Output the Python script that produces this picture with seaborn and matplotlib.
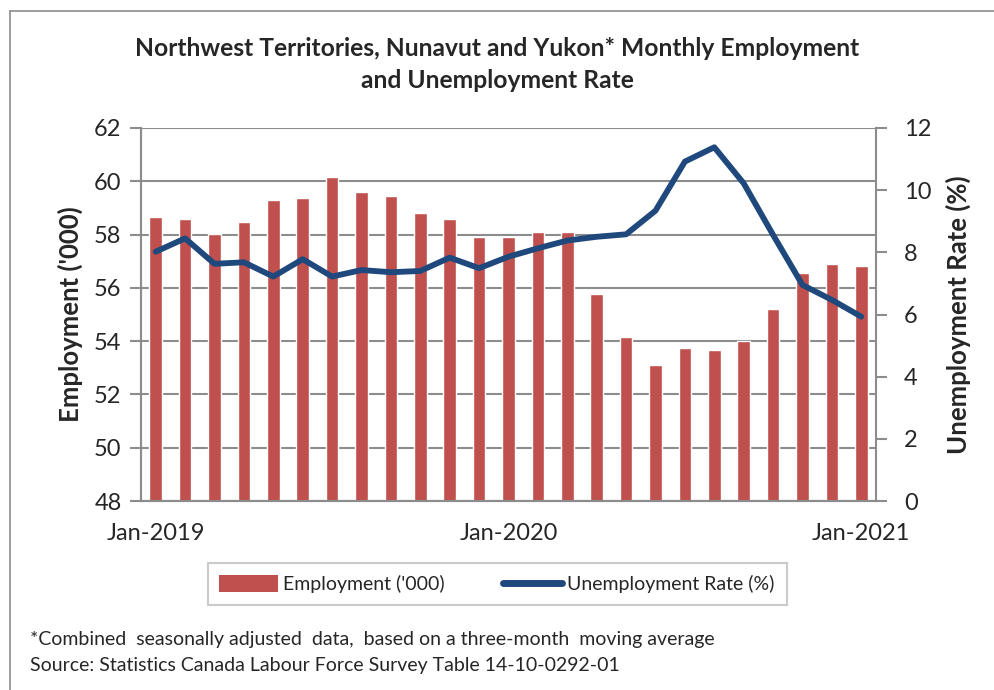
import matplotlib as mpl
from matplotlib import pyplot as plt
from matplotlib.lines import Line2D
from matplotlib.patches import Patch
import numpy as np
import pandas as pd
import seaborn as sns

# Chart data
MONTHS = ["Jan-2019", "Feb-2019", "Mar-2019", "Apr-2019", "May-2019", "Jun-2019",
          "Jul-2019", "Aug-2019", "Sep-2019", "Oct-2019", "Nov-2019", "Dec-2019",
          "Jan-2020", "Feb-2020", "Mar-2020", "Apr-2020", "May-2020", "Jun-2020",
          "Jul-2020", "Aug-2020", "Sep-2020", "Oct-2020", "Nov-2020", "Dec-2020",
          "Jan-2021"]
EMPLOYMENT = [58.65, 58.57, 58.01, 58.49, 59.29, 59.36, 60.16, 59.60, 59.44, 58.80,
              58.57, 57.91, 57.91, 58.08, 58.08, 55.77, 54.16, 53.12, 53.76, 53.68,
              54.01, 55.21, 56.56, 56.89, 56.81]
UNEMP_RATE = [8.02, 8.45, 7.63, 7.68, 7.22, 7.78, 7.22, 7.43, 7.36, 7.40,
              7.83, 7.49, 7.86, 8.13, 8.38, 8.50, 8.58, 9.34, 10.92, 11.38,
              10.22, 8.56, 6.95, 6.47, 5.93]
LABELED_MONTHS = ["Jan-2019", "Jan-2020", "Jan-2021"]

BAR_COLOR = "#C0504D"
LINE_COLOR = "#1F497D"
GRID_COLOR = "#8C8C8C"

sns.set_style("white")
plt.rcParams['font.family'] = ['Lato', 'DejaVu Sans']

df = pd.DataFrame({"month": MONTHS, "employment": EMPLOYMENT, "rate": UNEMP_RATE})
df["pos"] = np.arange(len(df))

fig = plt.figure(figsize=(9.94, 6.9), dpi=100)
ax = fig.add_axes([141 / 994, 1 - 501 / 690, (876 - 141) / 994, (501 - 128) / 690])

# Employment bars
sns.barplot(data=df, x="pos", y="employment", color=BAR_COLOR, width=0.43,
            saturation=1, ax=ax, zorder=2)
ax.set_ylim(48, 62)
ax.set_yticks(np.arange(48, 63, 2))
ax.set_xlim(-0.5, len(df) - 0.5)
ax.grid(axis="y", color=GRID_COLOR, lw=1.5, zorder=0)
ax.set_axisbelow(True)

# Unemployment rate line
ax2 = ax.twinx()
sns.lineplot(data=df, x="pos", y="rate", color=LINE_COLOR, lw=4.2,
             solid_capstyle="round", ax=ax2)
ax2.set_ylim(0, 12)
ax2.set_yticks(np.arange(0, 13, 2))
ax2.set_xlim(-0.5, len(df) - 0.5)

# X ticks: marks at category boundaries, labels on selected months
ax.set_xticks(np.arange(-0.5, len(df), 1))
ax.set_xticklabels([])
lab_pos = [MONTHS.index(m) for m in LABELED_MONTHS]
ax.set_xticks(lab_pos, minor=True)
ax.set_xticklabels(LABELED_MONTHS, minor=True)
ax.tick_params(axis="x", which="major", length=8, width=1.5, color=GRID_COLOR, direction="out")
ax.tick_params(axis="x", which="minor", length=0, pad=16, labelsize=17)
ax.tick_params(axis="y", length=8, width=1.5, color=GRID_COLOR, direction="out", labelsize=17, pad=6)
ax2.tick_params(axis="y", length=8, width=1.5, color=GRID_COLOR, direction="out", labelsize=17, pad=12)

for a in (ax, ax2):
    for side in ("left", "right", "bottom"):
        a.spines[side].set_color(GRID_COLOR)
        a.spines[side].set_linewidth(1.5)
    a.spines["top"].set_visible(False)
    a.set_xlabel("")
ax.spines["right"].set_visible(False)

ax.set_ylabel("Employment ('000)", fontsize=18.5, fontweight="bold", labelpad=8)
ax2.set_ylabel("Unemployment Rate (%)", fontsize=18.5, fontweight="bold", labelpad=10)

# Title
fig.text(0.5, 1 - 48 / 690, "Northwest Territories, Nunavut and Yukon* Monthly Employment",
         ha="center", va="center", fontsize=17.7, fontweight="bold")
fig.text(0.5, 1 - 80 / 690, "and Unemployment Rate",
         ha="center", va="center", fontsize=17.7, fontweight="bold")

# Legend
handles = [Patch(facecolor=BAR_COLOR, edgecolor="none"),
           Line2D([0], [0], color=LINE_COLOR, lw=5)]
leg = fig.legend(handles, ["Employment ('000)", "Unemployment Rate (%)"],
                 loc="center", bbox_to_anchor=(0.5, 1 - 584 / 690), ncol=2,
                 fontsize=14, frameon=True, fancybox=False, handlelength=3,
                 handleheight=1.0, handletextpad=0.3, columnspacing=3.0,
                 borderpad=0.6)
leg.get_frame().set_edgecolor("#BFBFBF")
leg.get_frame().set_linewidth(1.5)

# Footnotes
fig.text(30 / 994, 1 - 640 / 690,
         "*Combined  seasonally adjusted  data,  based on a three-month  moving average",
         ha="left", va="center", fontsize=14)
fig.text(30 / 994, 1 - 665 / 690,
         "Source: Statistics Canada Labour Force Survey Table 14-10-0292-01",
         ha="left", va="center", fontsize=14)

# Outer chart border (left and top edges visible)
fig.add_artist(Line2D([10 / 994, 10 / 994], [0, 1 - 11 / 690], color="#8C8C8C", lw=1.2,
                      transform=fig.transFigure))
fig.add_artist(Line2D([10 / 994, 1], [1 - 11 / 690, 1 - 11 / 690], color="#8C8C8C", lw=1.2,
                      transform=fig.transFigure))

fig.savefig("out.png", dpi=100)
